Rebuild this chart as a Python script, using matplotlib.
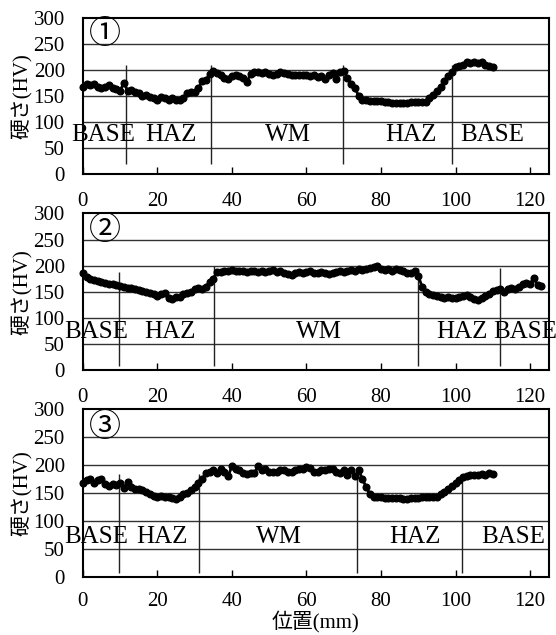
import matplotlib
matplotlib.use("Agg")
import matplotlib.pyplot as plt
import numpy as np

plt.rcParams['font.family'] = ['Liberation Serif', 'Noto Sans CJK JP']

# hardness readings, one per mm from 0
hv1 = [168, 172, 170, 173, 168, 165, 168, 170, 165, 163, 160,
       175, 160, 162, 158, 155, 150, 152, 148, 145, 142,
       148, 145, 142, 146, 143, 143, 145, 155, 158, 157,
       165, 178, 180, 192, 198, 193, 190, 185, 182, 188,
       190, 188, 185, 177, 192, 195, 196, 193, 195, 192,
       190, 192, 195, 193, 192, 190, 190, 191, 190, 190,
       189, 190, 187, 188, 183, 190, 193, 183, 195, 197,
       185, 172, 165, 150, 143, 142, 141, 141, 140, 140,
       139, 138, 137, 136, 136, 137, 137, 138, 138, 138,
       138, 139, 145, 152, 160, 168, 178, 188, 196, 205,
       208, 210, 215, 214, 215, 214, 215, 210, 207, 205]
hv2 = [185, 178, 174, 172, 170, 168, 166, 165, 164, 163, 162,
       160, 158, 157, 156, 153, 151, 149, 148, 146, 141,
       145, 148, 138, 137, 140, 140, 145, 148, 150, 155,
       158, 155, 160, 168, 175, 188, 188, 190, 190, 192,
       190, 190, 189, 188, 190, 189, 188, 190, 187, 190,
       191, 188, 190, 186, 184, 183, 185, 187, 185, 188,
       190, 185, 186, 188, 185, 184, 186, 188, 190, 188,
       190, 192, 190, 194, 191, 193, 195, 197, 200, 193,
       192, 193, 190, 194, 192, 190, 186, 185, 190, 180,
       160, 150, 145, 143, 141, 140, 139, 140, 139, 139,
       140, 141, 143, 140, 137, 135, 138, 142, 145, 152,
       153, 155, 150, 155, 158, 156, 160, 165, 167, 165,
       176, 163, 162]
hv3 = [168, 172, 175, 168, 172, 175, 165, 162, 165, 163, 168,
       158, 170, 160, 157, 156, 155, 152, 148, 145, 143,
       145, 142, 143, 140, 138, 142, 148, 150, 155, 160,
       167, 175, 185, 188, 190, 185, 192, 188, 180, 198,
       192, 190, 185, 183, 185, 185, 197, 190, 192, 188,
       188, 187, 190, 190, 188, 187, 190, 192, 193, 196,
       194, 188, 188, 190, 190, 192, 193, 188, 185, 190,
       182, 190, 180, 190, 175, 160, 148, 143, 142, 142,
       141, 141, 140, 140, 140, 139, 139, 140, 140, 141,
       142, 142, 142, 142, 143, 147, 152, 156, 162, 168,
       173, 178, 180, 181, 182, 182, 183, 182, 186, 183]

# zone boundaries (mm) and line extents (HV)
bounds = [[11.5, 34.3, 69.8, 99.1],
          [9.6, 35.3, 89.9, 112.0],
          [9.6, 31.2, 73.5, 101.8]]
bound_top = [[210, 210, 210, 210],
             [188, 199, 195, 195],
             [183, 183, 189, 183]]
bound_bot = [19, 8, 6.5]

zone_names = ['BASE', 'HAZ', 'WM', 'HAZ', 'BASE']
zone_x = [[5.4, 23.7, 55.0, 87.9, 109.7],
          [3.7, 23.4, 63.4, 101.7, 118.6],
          [3.6, 21.2, 52.6, 89.2, 115.5]]
zone_y = [75, 73, 71]
marks = ['①', '②', '③']

series = [hv1, hv2, hv3]
boxes = [[0.149, 0.726, 0.838, 0.246],
         [0.149, 0.417, 0.838, 0.247],
         [0.149, 0.092, 0.838, 0.264]]

fig = plt.figure(figsize=(5.56, 6.35), dpi=100)

for i in range(3):
    ax = fig.add_axes(boxes[i])
    hv = series[i]
    x = np.arange(len(hv))
    for g in [50, 100, 150, 200, 250]:
        ax.axhline(g, color='#333333', lw=1.0, zorder=1)
    ax.plot(x, hv, 'o-', color='black', ms=4.8, lw=2, zorder=3, clip_on=False)
    ax.vlines(bounds[i], bound_bot[i], bound_top[i], color='#222222', lw=1.0, zorder=2)
    for name, zx in zip(zone_names, zone_x[i]):
        ax.text(zx, zone_y[i], name, ha='center', va='center', fontsize=18,
                zorder=4, clip_on=False)
    ax.text(6.0, 266, marks[i], ha='center', va='center', fontsize=23)

    ax.set_xlim(0, 125)
    ax.set_ylim(0, 300)
    ax.set_xticks([0, 20, 40, 60, 80, 100, 120])
    ax.set_yticks([0, 50, 100, 150, 200, 250, 300])
    ax.tick_params(axis='x', direction='in', length=5, width=1,
                   pad=13 if i < 2 else 11, labelsize=15)
    ax.tick_params(axis='y', length=0, pad=13, labelsize=15)
    for s in ax.spines.values():
        s.set_linewidth(1.5)
    ax.set_ylabel('硬さ(HV)', fontsize=15, labelpad=1)
    if i == 2:
        ax.set_xlabel('位置(mm)', fontsize=15, labelpad=0)

fig.savefig('out.png', dpi=100)
